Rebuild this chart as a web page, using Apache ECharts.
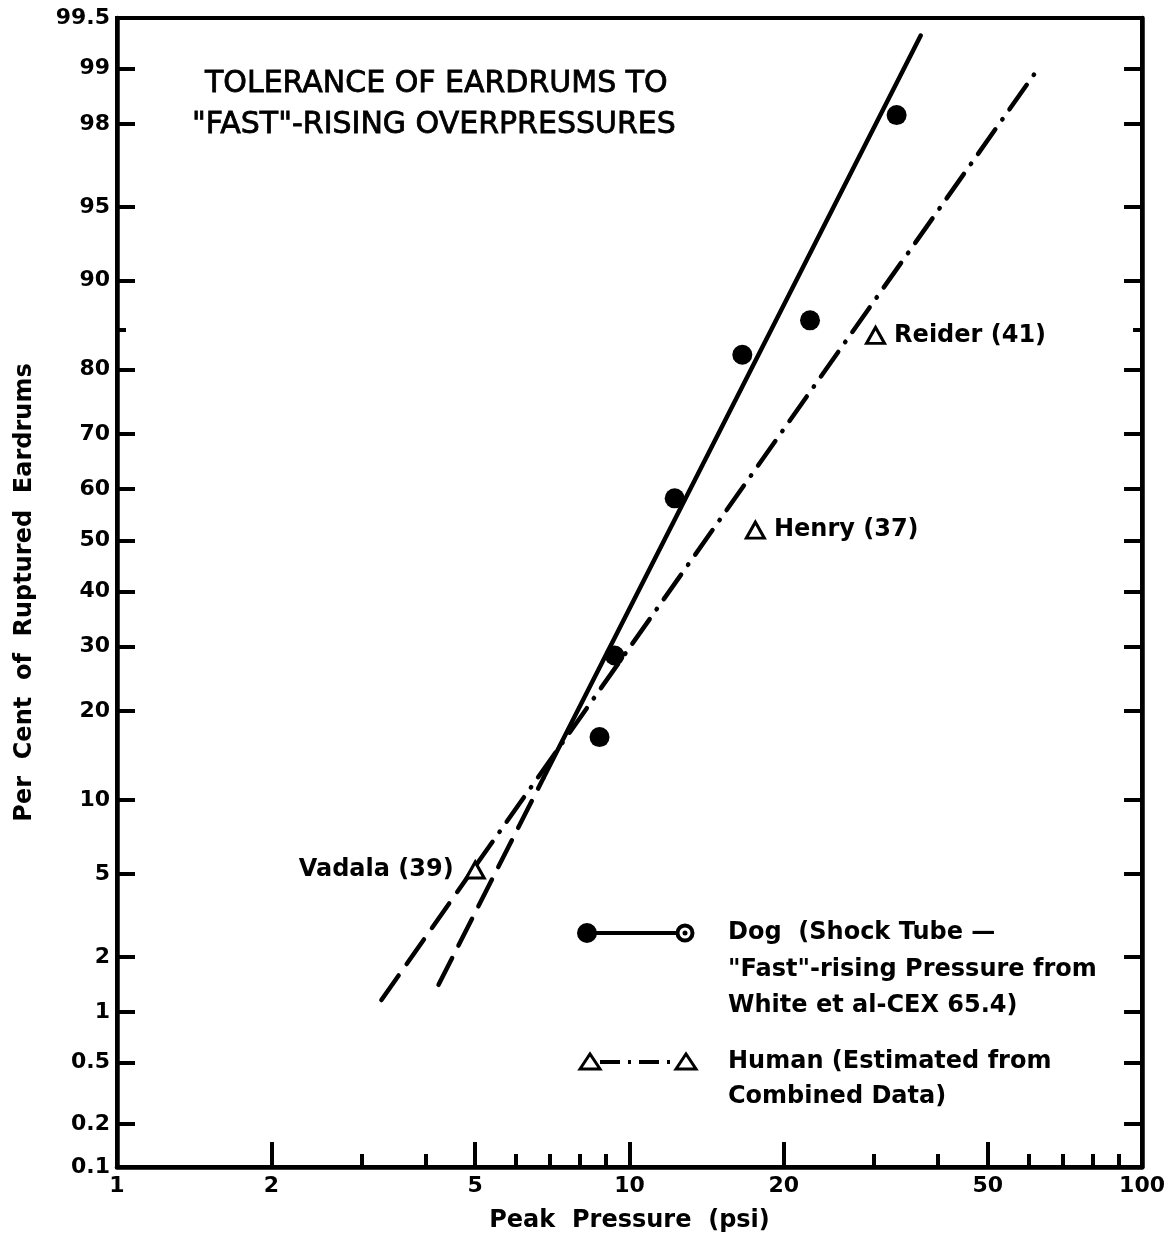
<!DOCTYPE html>
<html><head><meta charset="utf-8">
<script src="https://cdn.jsdelivr.net/npm/echarts@6/dist/echarts.min.js"></script>
<style>html,body{margin:0;padding:0;background:#fff}#c{width:1168px;height:1243px}</style>
</head><body><div id="c"></div>
<script>
// ---------------- data ----------------
const yLabelPercents = [0.1, 0.2, 0.5, 1, 2, 5, 10, 20, 30, 40, 50, 60, 70, 80, 90, 95, 98, 99, 99.5];
const yTickPercents = [0.2, 0.5, 1, 2, 5, 10, 20, 30, 40, 50, 60, 70, 80, 90, 95, 98, 99];
const yMinorTickPercents = [85];
const yRange = [0.1, 99.5];
const xRange = [1, 100];
const xLabelValues = [1, 2, 5, 10, 20, 50, 100];
const xMajorTicks = [2, 5, 10, 20, 50];
const xMinorTicks = [3, 4, 6, 7, 8, 9, 30, 40, 60, 70, 80, 90];

const dogPressure = [8.74, 9.35, 12.25, 16.6, 22.5, 33.2];
const dogPercent = [16.6, 28.5, 58.2, 82.0, 86.1, 98.2];
const dogFitPressure = [4.24, 6.8, 37.0];
const dogFitPercent = [1.42, 12.1, 99.36];

const humanNames = ['Vadala (39)', 'Henry (37)', 'Reider (41)'];
const humanPressure = [5.0, 17.6, 30.2];
const humanPercent = [5.2, 52, 84.4];
const humanFitPressure = [3.28, 5.0, 61.7];
const humanFitPercent = [1.17, 5.4, 98.93];

const titleLines = ['TOLERANCE OF EARDRUMS TO', '"FAST"-RISING OVERPRESSURES'];
const legendDogLines = ['Dog  (Shock Tube —', '"Fast"-rising Pressure from', 'White et al-CEX 65.4)'];
const legendHumanLines = ['Human (Estimated from', 'Combined Data)'];

// ---------------- probability (probit) transform ----------------
function probit(pct) {
  const p = pct / 100;
  const a = [-3.969683028665376e+01, 2.209460984245205e+02, -2.759285104469687e+02, 1.383577518672690e+02, -3.066479806614716e+01, 2.506628277459239e+00];
  const b = [-5.447609879822406e+01, 1.615858368580409e+02, -1.556989798598866e+02, 6.680131188771972e+01, -1.328068155288572e+01];
  const c = [-7.784894002430293e-03, -3.223964580411365e-01, -2.400758277161838e+00, -2.549732539343734e+00, 4.374664141464968e+00, 2.938163982698783e+00];
  const d = [7.784695709041462e-03, 3.224671290700398e-01, 2.445134137142996e+00, 3.754408661907416e+00];
  const pl = 0.02425, ph = 1 - pl;
  let q, r;
  if (p < pl) {
    q = Math.sqrt(-2 * Math.log(p));
    return (((((c[0]*q+c[1])*q+c[2])*q+c[3])*q+c[4])*q+c[5]) / ((((d[0]*q+d[1])*q+d[2])*q+d[3])*q+1);
  }
  if (p <= ph) {
    q = p - 0.5; r = q * q;
    return (((((a[0]*r+a[1])*r+a[2])*r+a[3])*r+a[4])*r+a[5])*q / (((((b[0]*r+b[1])*r+b[2])*r+b[3])*r+b[4])*r+1);
  }
  q = Math.sqrt(-2 * Math.log(1 - p));
  return -(((((c[0]*q+c[1])*q+c[2])*q+c[3])*q+c[4])*q+c[5]) / ((((d[0]*q+d[1])*q+d[2])*q+d[3])*q+1);
}

const yMin = probit(yRange[0]);
const yMax = probit(yRange[1]);
const yLabelZ = yLabelPercents.map(probit);
function yLabelFmt(v) {
  let best = 0;
  for (let i = 1; i < yLabelZ.length; i++) {
    if (Math.abs(yLabelZ[i] - v) < Math.abs(yLabelZ[best] - v)) best = i;
  }
  return String(yLabelPercents[best]);
}
const pts = (xs, ys) => xs.map((x, i) => [x, probit(ys[i])]);

const FONT = '"DejaVu Sans", sans-serif';
const BLACK = '#000';

const hiddenY = (extra) => Object.assign({
  type: 'value', min: yMin, max: yMax, splitLine: {show: false},
  axisLabel: {show: false}, axisLine: {show: false, onZero: false}
}, extra);

const option = {
  animation: false,
  backgroundColor: '#fff',
  grid: {left: 117, right: 23, top: 18, bottom: 76, show: true, borderColor: BLACK, borderWidth: 4, backgroundColor: 'transparent'},
  xAxis: [
    {
      type: 'log', logBase: 10, min: xRange[0], max: xRange[1], position: 'bottom',
      name: 'Peak  Pressure  (psi)', nameLocation: 'middle', nameGap: 42,
      nameTextStyle: {fontFamily: FONT, fontWeight: 'bold', fontSize: 24, color: BLACK},
      axisLine: {show: true, onZero: false, lineStyle: {color: BLACK, width: 4.5}},
      axisTick: {show: true, inside: true, length: 25, lineStyle: {color: BLACK, width: 4}, customValues: xMajorTicks},
      minorTick: {show: false},
      axisLabel: {show: true, customValues: xLabelValues, formatter: v => String(v), margin: 8,
        fontFamily: FONT, fontWeight: 'bold', fontSize: 22, color: BLACK},
      splitLine: {show: false}
    },
    {
      type: 'log', logBase: 10, min: xRange[0], max: xRange[1], position: 'bottom',
      axisLine: {show: false, onZero: false},
      axisTick: {show: true, inside: true, length: 13, lineStyle: {color: BLACK, width: 4}, customValues: xMinorTicks},
      axisLabel: {show: false}, splitLine: {show: false}
    }
  ],
  yAxis: [
    {
      type: 'value', min: yMin, max: yMax, position: 'left',
      name: 'Per  Cent  of  Ruptured  Eardrums', nameLocation: 'middle', nameGap: 80, nameRotate: 90,
      nameTextStyle: {fontFamily: FONT, fontWeight: 'bold', fontSize: 24, color: BLACK},
      axisLine: {show: true, onZero: false, lineStyle: {color: BLACK, width: 4.5}},
      axisTick: {show: true, inside: true, length: 18, lineStyle: {color: BLACK, width: 4}, customValues: yTickPercents.map(probit)},
      axisLabel: {show: true, customValues: yLabelZ, formatter: yLabelFmt, margin: 7,
        fontFamily: FONT, fontWeight: 'bold', fontSize: 22, color: BLACK},
      splitLine: {show: false}
    },
    hiddenY({position: 'left', axisTick: {show: true, inside: true, length: 9, lineStyle: {color: BLACK, width: 4}, customValues: yMinorTickPercents.map(probit)}}),
    hiddenY({position: 'right', axisLine: {show: true, onZero: false, lineStyle: {color: BLACK, width: 4.5}},
      axisTick: {show: true, inside: true, length: 18, lineStyle: {color: BLACK, width: 4}, customValues: yTickPercents.map(probit)}}),
    hiddenY({position: 'right', axisTick: {show: true, inside: true, length: 9, lineStyle: {color: BLACK, width: 4}, customValues: yMinorTickPercents.map(probit)}})
  ],
  series: [
    {
      name: 'Dog fit (extrapolated)', type: 'line', xAxisIndex: 0, yAxisIndex: 0,
      data: pts(dogFitPressure.slice(0, 2), dogFitPercent.slice(0, 2)),
      showSymbol: false, lineStyle: {color: BLACK, width: 4.5, type: [30, 14], cap: 'round'}, z: 3
    },
    {
      name: 'Dog fit', type: 'line', xAxisIndex: 0, yAxisIndex: 0,
      data: pts(dogFitPressure.slice(1), dogFitPercent.slice(1)),
      showSymbol: false, lineStyle: {color: BLACK, width: 4.5, type: 'solid', cap: 'round'}, z: 3
    },
    {
      name: 'Human fit (extrapolated)', type: 'line', xAxisIndex: 0, yAxisIndex: 0,
      data: pts(humanFitPressure.slice(0, 2), humanFitPercent.slice(0, 2)),
      showSymbol: false, lineStyle: {color: BLACK, width: 4.5, type: [30, 14], cap: 'round'}, z: 3
    },
    {
      name: 'Human fit', type: 'line', xAxisIndex: 0, yAxisIndex: 0,
      data: pts(humanFitPressure.slice(1), humanFitPercent.slice(1)),
      showSymbol: false, lineStyle: {color: BLACK, width: 4.5, type: [30, 12, 0.5, 12], cap: 'round'}, z: 3
    },
    {
      name: 'Dog', type: 'scatter', xAxisIndex: 0, yAxisIndex: 0,
      data: pts(dogPressure, dogPercent),
      symbol: 'circle', symbolSize: 20, itemStyle: {color: BLACK, opacity: 1}, z: 5
    },
    {
      name: 'Human', type: 'scatter', xAxisIndex: 0, yAxisIndex: 0,
      data: humanPressure.map((x, i) => ({
        value: [x, probit(humanPercent[i])],
        name: humanNames[i],
        label: {position: i === 0 ? 'left' : 'right', distance: i === 0 ? 11 : 8}
      })),
      symbol: 'triangle', symbolSize: [18, 16],
      itemStyle: {color: '#fff', borderColor: BLACK, borderWidth: 3, opacity: 1}, z: 6,
      label: {show: true, formatter: p => p.name, fontFamily: FONT, fontWeight: 'bold', fontSize: 24, color: BLACK, opacity: 1}
    }
  ],
  graphic: [
    {type: 'text', x: 205, y: 84, style: {text: titleLines[0], font: '30px "DejaVu Sans"', fill: BLACK, stroke: BLACK, lineWidth: 0.8, textAlign: 'left', textVerticalAlign: 'middle', align: 'left', verticalAlign: 'middle'}},
    {type: 'text', x: 192, y: 125, style: {text: titleLines[1], font: '30px "DejaVu Sans"', fill: BLACK, stroke: BLACK, lineWidth: 0.8, textAlign: 'left', textVerticalAlign: 'middle', align: 'left', verticalAlign: 'middle'}},
    // legend: dog sample
    {type: 'line', shape: {x1: 587, y1: 933, x2: 686, y2: 933}, style: {stroke: BLACK, lineWidth: 4}},
    {type: 'circle', shape: {cx: 587, cy: 933, r: 10}, style: {fill: BLACK}},
    {type: 'circle', shape: {cx: 685, cy: 933, r: 7.5}, style: {fill: '#fff', stroke: BLACK, lineWidth: 4}},
    {type: 'circle', shape: {cx: 685, cy: 933, r: 2.5}, style: {fill: BLACK}},
    // legend: human sample
    {type: 'line', shape: {x1: 600, y1: 1062, x2: 676, y2: 1062}, style: {stroke: BLACK, lineWidth: 4, lineDash: [20, 8, 3, 8]}},
    {type: 'polygon', shape: {points: [[580, 1069], [590, 1054], [600, 1069]]}, style: {fill: '#fff', stroke: BLACK, lineWidth: 3}},
    {type: 'polygon', shape: {points: [[676, 1069], [686, 1054], [696, 1069]]}, style: {fill: '#fff', stroke: BLACK, lineWidth: 3}}
  ].concat(
    legendDogLines.map((t, i) => ({type: 'text', x: 728, y: 933 + i * 36.5,
      style: {text: t, font: 'bold 24px "DejaVu Sans"', fill: BLACK, textAlign: 'left', textVerticalAlign: 'middle', align: 'left', verticalAlign: 'middle'}})),
    legendHumanLines.map((t, i) => ({type: 'text', x: 728, y: 1062 + i * 35,
      style: {text: t, font: 'bold 24px "DejaVu Sans"', fill: BLACK, textAlign: 'left', textVerticalAlign: 'middle', align: 'left', verticalAlign: 'middle'}}))
  )
};

const chart = echarts.init(document.getElementById('c'), null, {renderer: 'canvas'});
chart.setOption(option);
</script>
</body></html>
